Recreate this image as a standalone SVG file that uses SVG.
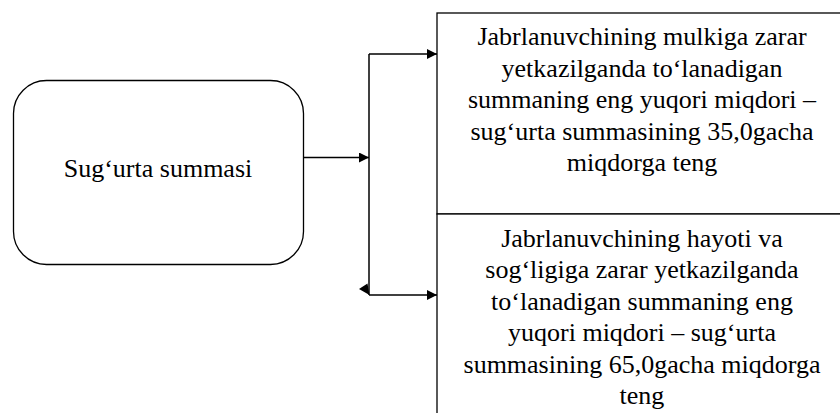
<svg xmlns="http://www.w3.org/2000/svg" width="840" height="413" viewBox="0 0 840 413">
<style>
.box{fill:#fff;stroke:#000;stroke-width:1.3}
.t{font-family:'Liberation Serif','DejaVu Serif',serif;font-size:26px;fill:#000;text-anchor:middle}
.c{fill:none;stroke:#000;stroke-width:1.5}
</style>
<defs>
<marker id="ah" viewBox="0 0 10 10" refX="10" refY="5" markerWidth="10" markerHeight="10" markerUnits="userSpaceOnUse" orient="auto">
<path d="M0,0 L10,5 L0,10 Z" fill="#000"/>
</marker>
</defs>
<g id="source">
<rect class="box" x="13.5" y="80.5" width="290" height="184" rx="33" ry="33"/>
<text class="t" x="158" y="177">Sug‘urta summasi</text>
</g>
<g id="property">
<rect class="box" x="437" y="13" width="410" height="201"/>
<text class="t" x="642" y="45">Jabrlanuvchining mulkiga zarar</text>
<text class="t" x="642" y="76.5">yetkazilganda to‘lanadigan</text>
<text class="t" x="642" y="108">summaning eng yuqori miqdori –</text>
<text class="t" x="642" y="139.5">sug‘urta summasining 35,0gacha</text>
<text class="t" x="642" y="171">miqdorga teng</text>
</g>
<g id="life">
<rect class="box" x="437" y="214" width="410" height="210"/>
<text class="t" x="642" y="246.5">Jabrlanuvchining hayoti va</text>
<text class="t" x="642" y="278">sog‘ligiga zarar yetkazilganda</text>
<text class="t" x="642" y="309.5">to‘lanadigan summaning eng</text>
<text class="t" x="642" y="341">yuqori miqdori – sug‘urta</text>
<text class="t" x="642" y="372.5">summasining 65,0gacha miqdorga</text>
<text class="t" x="642" y="404">teng</text>
</g>
<g id="connectors">
<path class="c" d="M303,157.5 H369" marker-end="url(#ah)"/>
<path class="c" d="M369,54 V295"/>
<path class="c" d="M369,54 H437" marker-end="url(#ah)"/>
<path class="c" d="M369,295 H437" marker-end="url(#ah)"/>
<path d="M359,289 L367.5,283.5 L369.5,295 Z" fill="#000"/>
</g>
</svg>
